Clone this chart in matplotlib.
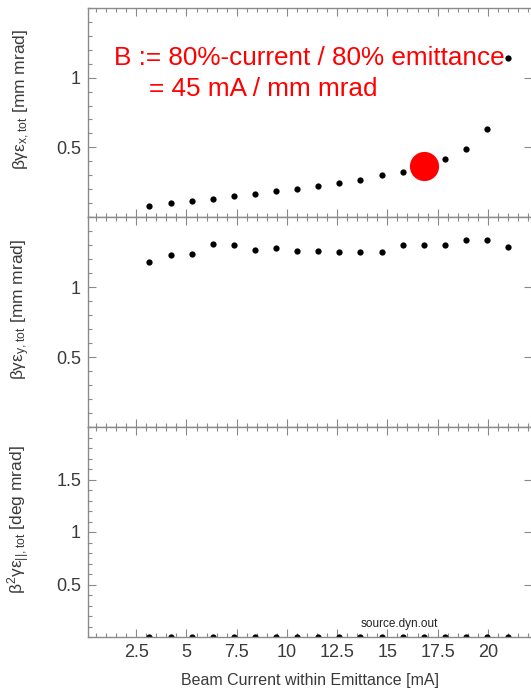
import numpy as np
import matplotlib.pyplot as plt
from matplotlib.ticker import MultipleLocator, FixedLocator, FixedFormatter

plt.rcParams['font.family'] = ['Liberation Sans', 'DejaVu Sans']

# Beam current within emittance [mA]
current = [3.16, 4.21, 5.26, 6.30, 7.35, 8.40, 9.44, 10.49, 11.55,
           12.60, 13.65, 14.71, 15.76, 16.82, 17.85, 18.91, 19.96, 21.00]
# transverse x emittance [mm mrad]
emit_x = [0.079, 0.100, 0.117, 0.131, 0.150, 0.167, 0.184, 0.203, 0.224,
          0.246, 0.267, 0.298, 0.326, 0.364, 0.414, 0.490, 0.629, 1.139]
# transverse y emittance [mm mrad]
emit_y = [1.179, 1.231, 1.236, 1.307, 1.303, 1.262, 1.281, 1.257, 1.260,
          1.253, 1.253, 1.250, 1.300, 1.298, 1.298, 1.333, 1.333, 1.283]
# longitudinal emittance [deg mrad]
emit_l = [0.002, 0.002, 0.002, 0.002, 0.002, 0.002, 0.002, 0.002, 0.002,
          0.002, 0.002, 0.002, 0.002, 0.002, 0.002, 0.002, 0.002, 0.002]

# 80% point marked in red
mark_x = 16.82
mark_y = 0.364

W, H = 531, 689
fig = plt.figure(figsize=(W / 100, H / 100), dpi=100)

left = 88 / W
width = 1.002 - left
panels = [(8, 217), (217, 427), (427, 637)]

spine_col = '#8a8a8a'
label_col = '#3a3a3a'

ylabels = [r'$\mathregular{βγε_{x,tot}}$ [mm mrad]',
           r'$\mathregular{βγε_{y,tot}}$ [mm mrad]',
           r'$\mathregular{β^2γε_{||,tot}}$ [deg mrad]']
ydata = [emit_x, emit_y, emit_l]
ymax = [1.5, 1.5, 2.0]
majors = [[0.5, 1.0], [0.5, 1.0], [0.5, 1.0, 1.5]]
majlabels = [['0.5', '1'], ['0.5', '1'], ['0.5', '1', '1.5']]

axes = []
for i, (top, bot) in enumerate(panels):
    ax = fig.add_axes([left, 1 - bot / H, width, (bot - top) / H])
    ax.plot(current, ydata[i], 'o', color='black', ms=4.5, mec='none')
    ax.set_xlim(0.1, 22.2)
    ax.set_ylim(0, ymax[i])

    ax.xaxis.set_major_locator(MultipleLocator(2.5))
    ax.xaxis.set_minor_locator(MultipleLocator(0.5))
    ax.yaxis.set_major_locator(FixedLocator(majors[i]))
    ax.yaxis.set_major_formatter(FixedFormatter(majlabels[i]))
    ax.yaxis.set_minor_locator(MultipleLocator(0.1))

    ax.tick_params(which='both', direction='in', top=True, right=True,
                   color=spine_col, width=0.8, labelcolor=label_col,
                   labelsize=13)
    ax.tick_params(which='major', length=5.5, pad=5)
    ax.tick_params(which='minor', length=3)
    ax.tick_params(axis='y', which='minor', right=False)
    for s in ax.spines.values():
        s.set_color(spine_col)
        s.set_linewidth(1.0)

    ax.set_ylabel(ylabels[i], fontsize=12.5, color=label_col)
    ax.yaxis.set_label_coords(-0.125, 0.56)
    if i < 2:
        ax.tick_params(axis='x', labelbottom=False)
    axes.append(ax)

axes[2].set_xticks([2.5, 5, 7.5, 10, 12.5, 15, 17.5, 20])
axes[2].set_xticklabels(['2.5', '5', '7.5', '10', '12.5', '15', '17.5', '20'])
axes[2].set_xlabel('Beam Current within Emittance [mA]', fontsize=11.5,
                   color=label_col, labelpad=9)

# highlight and annotation in the top panel
axes[0].plot([mark_x], [mark_y], 'o', color='red', ms=21, mec='none')
axes[0].text(0.058, 0.725, 'B := 80%-current / 80% emittance',
             transform=axes[0].transAxes, color='red', fontsize=18.8)
axes[0].text(0.137, 0.58, '= 45 mA / mm mrad',
             transform=axes[0].transAxes, color='red', fontsize=18.8)

axes[2].text(15.6, 0.1, 'source.dyn.out', fontsize=8.5, color='#222222',
             ha='center')

fig.savefig('out.png', dpi=100)
